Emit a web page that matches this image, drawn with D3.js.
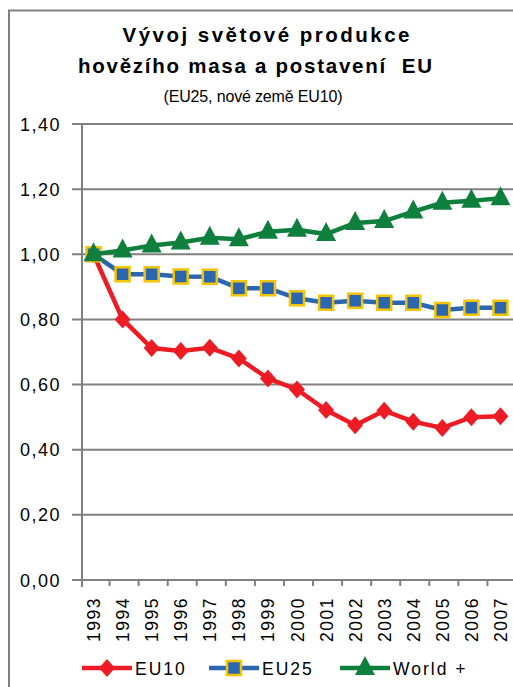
<!DOCTYPE html>
<html>
<head>
<meta charset="utf-8">
<script src="https://cdn.jsdelivr.net/npm/d3@7"></script>
<style>
  body { margin: 0; background: #fff; }
  svg { display: block; font-family: "Liberation Sans", Arial, sans-serif; }
  .title text { white-space: pre; }
</style>
</head>
<body>
<div class="chart"></div>
<script>
// roky (kategorie)
const years = ['1993', '1994', '1995', '1996', '1997', '1998', '1999', '2000',
  '2001', '2002', '2003', '2004', '2005', '2006', '2007'];
// EU10 – nové země
const eu10 = [1.00, 0.80, 0.712, 0.703, 0.713, 0.68, 0.619, 0.585,
  0.522, 0.475, 0.52, 0.486, 0.467, 0.50, 0.503];
// EU25
const eu25 = [1.00, 0.939, 0.939, 0.932, 0.931, 0.896, 0.896, 0.865,
  0.851, 0.857, 0.851, 0.851, 0.829, 0.836, 0.836];
// svět
const world = [1.00, 1.012, 1.027, 1.036, 1.051, 1.046, 1.069, 1.075,
  1.062, 1.096, 1.102, 1.131, 1.158, 1.164, 1.172];
const yTicks = [0, 0.2, 0.4, 0.6, 0.8, 1.0, 1.2, 1.4];

const seriesList = [
  { name: 'EU10', values: eu10, color: '#ed1c24', marker: 'diamond' },
  { name: 'EU25', values: eu25, color: '#2b66b0', marker: 'square' },
  { name: 'World +', values: world, color: '#0e7f3c', marker: 'triangle' },
];

const W = 513, H = 687;
const svg = d3.select('.chart').append('svg')
  .attr('width', W).attr('height', H);

// rámeček grafu
svg.append('path')
  .attr('d', `M9,${H} V10.5 H${W}`)
  .attr('fill', 'none')
  .attr('stroke', '#808080')
  .attr('stroke-width', 2);

// nadpis
const title = svg.append('g').attr('class', 'title').attr('text-anchor', 'middle');
title.append('text').attr('x', 266).attr('y', 42)
  .attr('font-size', 20.5).attr('font-weight', 'bold')
  .attr('textLength', 287).attr('lengthAdjust', 'spacing')
  .text('Vývoj světové produkce');
title.append('text').attr('x', 255).attr('y', 73)
  .attr('font-size', 20.5).attr('font-weight', 'bold')
  .attr('textLength', 354).attr('lengthAdjust', 'spacing')
  .text('hovězího masa a postavení  EU');
title.append('text').attr('x', 253).attr('y', 102)
  .attr('font-size', 16)
  .attr('textLength', 179).attr('lengthAdjust', 'spacing')
  .text('(EU25, nové země EU10)');

// měřítka
const x = d3.scaleBand().domain(years).range([79, 515]);
const y = d3.scaleLinear().domain([0, 1.4]).range([580, 124]);
const axisX = 82;

// mřížka
svg.append('g')
  .selectAll('line')
  .data(yTicks)
  .join('line')
  .attr('x1', 72).attr('x2', W)
  .attr('y1', (d) => y(d)).attr('y2', (d) => y(d))
  .attr('stroke', '#808080').attr('stroke-width', 2);

// osa Y
svg.append('line')
  .attr('x1', axisX).attr('x2', axisX)
  .attr('y1', y(1.4)).attr('y2', 587)
  .attr('stroke', '#808080').attr('stroke-width', 2);

svg.append('g')
  .selectAll('text')
  .data(yTicks)
  .join('text')
  .attr('x', 61).attr('y', (d) => y(d) + 6.5)
  .attr('text-anchor', 'end')
  .attr('font-size', 18)
  .attr('letter-spacing', 1.5)
  .text((d) => d3.format('.2f')(d).replace('.', ','));

// osa X – značky mezi kategoriemi
svg.append('g')
  .selectAll('line')
  .data(years.slice(1))
  .join('line')
  .attr('x1', (d) => x(d) + 1.5).attr('x2', (d) => x(d) + 1.5)
  .attr('y1', 580).attr('y2', 586)
  .attr('stroke', '#808080').attr('stroke-width', 2);

svg.append('g')
  .selectAll('text')
  .data(years)
  .join('text')
  .attr('transform', (d) => `translate(${x(d) + x.bandwidth() / 2 + 6.5},597) rotate(-90)`)
  .attr('text-anchor', 'end')
  .attr('font-size', 17.5)
  .attr('letter-spacing', 1.5)
  .text((d) => d);

// značky
function markerPath(type) {
  if (type === 'diamond') return 'M0,-9 L8,0 L0,9 L-8,0 Z';
  if (type === 'square') return 'M-7,-7 H7 V7 H-7 Z';
  return 'M0,-12 L10,7 L-10,7 Z';
}
function drawMarker(g, s) {
  g.append('path')
    .attr('d', markerPath(s.marker))
    .attr('fill', s.color)
    .attr('stroke', s.marker === 'square' ? '#f5c400' : 'none')
    .attr('stroke-width', 2.5);
}

const line = d3.line()
  .x((d, i) => x(years[i]) + x.bandwidth() / 2)
  .y((d) => y(d));

seriesList.forEach((s) => {
  svg.append('path')
    .datum(s.values)
    .attr('d', line)
    .attr('fill', 'none')
    .attr('stroke', s.color)
    .attr('stroke-width', 4.5);
  s.values.forEach((v, i) => {
    const g = svg.append('g')
      .attr('transform', `translate(${x(years[i]) + x.bandwidth() / 2},${y(v)})`);
    drawMarker(g, s);
  });
});

// legenda
const legendPos = [82, 209, 340];
seriesList.forEach((s, i) => {
  const lg = svg.append('g').attr('transform', `translate(${legendPos[i]},668)`);
  lg.append('line')
    .attr('x1', 0).attr('x2', 50)
    .attr('stroke', s.color).attr('stroke-width', 4.5);
  const m = lg.append('g').attr('transform', 'translate(25,0)');
  drawMarker(m, s);
  lg.append('text')
    .attr('x', 53).attr('y', 6.5)
    .attr('font-size', 17.5)
    .attr('letter-spacing', 2)
    .text(s.name);
});
</script>
</body>
</html>
